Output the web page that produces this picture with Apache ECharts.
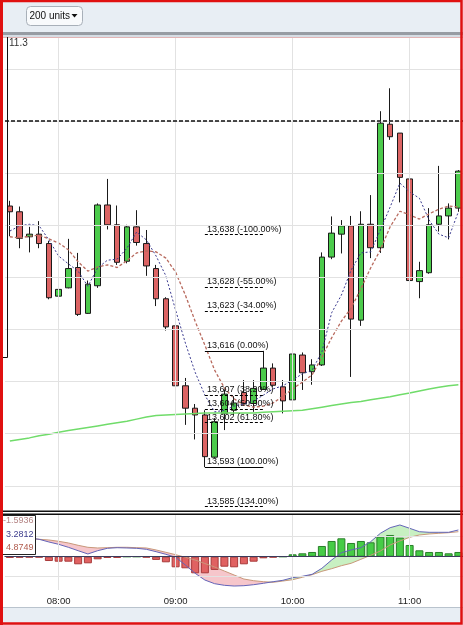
<!DOCTYPE html>
<html><head><meta charset="utf-8">
<script src="https://cdn.jsdelivr.net/npm/echarts@6/dist/echarts.min.js"></script>
<style>html,body{margin:0;padding:0;background:#fff}#c{width:463px;height:625px}</style>
</head><body><div id="c"></div>
<script>
const times = ['07:35','07:40','07:45','07:50','07:55','08:00','08:05','08:10','08:15','08:20','08:25','08:30','08:35','08:40','08:45','08:50','08:55','09:00','09:05','09:10','09:15','09:20','09:25','09:30','09:35','09:40','09:45','09:50','09:55','10:00','10:05','10:10','10:15','10:20','10:25','10:30','10:35','10:40','10:45','10:50','10:55','11:00','11:05','11:10','11:15','11:20','11:25','11:30'];

const opens  = [13.6437,13.6426,13.6378,13.6383,13.6365,13.6264,13.6280,13.6319,13.6231,13.6284,13.6439,13.6401,13.6331,13.6397,13.6365,13.6317,13.6259,13.6207,13.6092,13.6049,13.6036,13.5955,13.6039,13.6045,13.6079,13.6058,13.6085,13.6126,13.6090,13.6065,13.6151,13.6119,13.6132,13.6339,13.6383,13.6399,13.6218,13.6402,13.6357,13.6594,13.6577,13.6489,13.6292,13.6309,13.6402,13.6418,13.6433];
const closes = [13.6426,13.6375,13.6383,13.6365,13.6261,13.6277,13.6317,13.6229,13.6287,13.6439,13.6401,13.6329,13.6397,13.6367,13.6322,13.6259,13.6205,13.6092,13.6049,13.6036,13.5956,13.6023,13.6076,13.6059,13.6058,13.6087,13.6126,13.6093,13.6063,13.6153,13.6117,13.6132,13.6339,13.6385,13.6399,13.6220,13.6402,13.6357,13.6596,13.6570,13.6492,13.6294,13.6313,13.6401,13.6418,13.6433,13.6504];
const lows   = [13.6379,13.6356,13.6348,13.6356,13.6258,13.6226,13.6279,13.6226,13.6230,13.6280,13.6392,13.6324,13.6327,13.6361,13.6303,13.6245,13.6198,13.6090,13.6017,13.5989,13.5936,13.5953,13.6007,13.6036,13.6055,13.6042,13.6084,13.6090,13.6039,13.6060,13.6084,13.6094,13.6130,13.6335,13.6346,13.6109,13.6207,13.6337,13.6347,13.6564,13.6444,13.6241,13.6260,13.6307,13.6388,13.6373,13.6426];
const highs  = [13.6447,13.6436,13.6397,13.6408,13.6370,13.6308,13.6374,13.6347,13.6294,13.6442,13.6489,13.6438,13.6401,13.6429,13.6391,13.6324,13.6262,13.6215,13.6107,13.6057,13.6045,13.6030,13.6085,13.6072,13.6103,13.6103,13.6159,13.6135,13.6103,13.6157,13.6156,13.6143,13.6348,13.6417,13.6410,13.6418,13.6427,13.6458,13.6619,13.6663,13.6577,13.6491,13.6330,13.6433,13.6514,13.6442,13.6506];

const maFast = [13.6389,13.6399,13.6402,13.6399,13.6372,13.6341,13.6326,13.6312,13.6283,13.6318,13.6333,13.6335,13.6356,13.6387,13.6372,13.6341,13.6303,13.6237,13.6174,13.6118,13.6074,13.6042,13.6045,13.6053,13.6057,13.6063,13.6074,13.6086,13.6092,13.6103,13.6115,13.6122,13.6157,13.6232,13.6266,13.6314,13.6347,13.6349,13.6391,13.6435,13.6481,13.6464,13.6452,13.6410,13.6383,13.6376,13.6426];
const maSlow = [13.6378,13.6376,13.6379,13.6381,13.6374,13.6366,13.6353,13.6330,13.6312,13.6320,13.6324,13.6319,13.6332,13.6347,13.6351,13.6349,13.6337,13.6310,13.6266,13.6216,13.6170,13.6122,13.6088,13.6067,13.6055,13.6051,13.6053,13.6059,13.6072,13.6086,13.6099,13.6113,13.6147,13.6184,13.6216,13.6241,13.6278,13.6318,13.6353,13.6397,13.6427,13.6420,13.6412,13.6422,13.6431,13.6437,13.6435];
const maLong = [13.5986,13.5989,13.5992,13.5996,13.5999,13.6003,13.6006,13.6009,13.6012,13.6015,13.6018,13.6021,13.6024,13.6028,13.6032,13.6035,13.6036,13.6037,13.6038,13.6039,13.6040,13.6040,13.6040,13.6040,13.6040,13.6040,13.6041,13.6042,13.6043,13.6044,13.6045,13.6048,13.6051,13.6054,13.6057,13.6060,13.6062,13.6065,13.6068,13.6071,13.6075,13.6078,13.6082,13.6086,13.6089,13.6092,13.6094];

const macdHist   = [-0.3,-0.25,-0.2,-0.2,-1.08,-1.25,-1.25,-1.9,-1.65,-0.65,-0.3,-0.3,0,0,-0.2,-0.8,-1.4,-2.65,-2.9,-4.15,-4.15,-3.3,-2.5,-2.65,-1.9,-1.25,-0.4,-0.2,0,0.6,0.85,1.18,2.68,3.93,4.6,3.43,3.93,3.6,5.0,5.43,4.75,2.93,1.6,1.18,1.18,0.85,1.18];
const macdLine   = [5.4,5.1,4.7,4.35,3.68,3.1,2.35,1.5,0.68,1.5,2.1,2.25,2.18,2.1,1.85,1.25,0.6,-0.15,-2.08,-4.15,-5.83,-6.75,-7.15,-7.33,-7.25,-7.0,-6.65,-6.25,-5.9,-5.25,-4.9,-4.4,-2.9,-0.83,1.0,1.68,2.25,3.75,5.85,7.25,7.93,7.1,6.25,6.1,6.1,6.1,6.68];
const macdSignal = [4.7,4.6,4.5,4.35,4.18,3.85,3.43,2.85,2.35,2.18,2.25,2.35,2.35,2.25,2.18,1.68,1.1,0.5,-0.15,-0.83,-1.7,-2.58,-3.58,-4.58,-5.58,-6.0,-6.25,-6.4,-6.08,-5.75,-5.15,-4.5,-3.65,-3.0,-2.25,-1.65,-0.65,0.35,1.43,2.93,3.93,4.85,5.43,5.68,5.85,6.0,6.25];
const macdLegend = ['-1.5936','3.2812','4.8749'];

const fibHigh = 13.6159, fibLow = 13.5936;
const fibStart = '09:15', fibEnd = '09:45';
const fibRatios = [-1, -0.55, -0.34, 0, 0.382, 0.5, 0.618, 1, 1.34];
const fibLabels = ['13,638 (-100.00%)','13,628 (-55.00%)','13,623 (-34.00%)','13,616 (0.00%)','13,607 (38.20%)','13,604 (50.00%)','13,602 (61.80%)','13,593 (100.00%)','13,585 (134.00%)'];
const priceLine = 13.6596;
const gridPrices = [13.59,13.60,13.61,13.62,13.63,13.64,13.65,13.66,13.67];
const macdGridVals = [-5, 5];
const topLabel = '11.3';
const unitsLabel = '200 units';

const FONT = 'Liberation Sans, Arial, sans-serif';
const chart = echarts.init(document.getElementById('c'));
const hourTimes = times.filter(t => t.endsWith(':00'));
const candleData = opens.map((o, i) => [o, closes[i], lows[i], highs[i]]);
const fibLevels = fibRatios.map(r => fibHigh - r * (fibHigh - fibLow));
const base = macdLine.map((m, i) => Math.min(m, macdSignal[i]));
const pinkFill = macdLine.map((m, i) => m < macdSignal[i] ? macdSignal[i] - m : 0);
const greenFill = macdLine.map((m, i) => m >= macdSignal[i] ? m - macdSignal[i] : 0);

function gridLines(h, v, color) {
  return { silent: true, symbol: ['none','none'], label: { show: false }, animation: false,
    lineStyle: { color: color, width: 1, type: 'solid' },
    data: [...h.map(y => ({ yAxis: y })), ...v.map(x => ({ xAxis: x }))] };
}

const fibMarks = fibLevels.map((lv, i) => {
  const solid = (fibRatios[i] === 0 || fibRatios[i] === 1);
  return [
    { coord: [fibStart, lv],
      label: { show: true, position: 'insideStartTop', formatter: fibLabels[i], color: '#111', fontSize: 9, fontFamily: FONT, distance: [2, 1] },
      lineStyle: { color: '#000', width: 1, type: solid ? 'solid' : [3, 2] } },
    { coord: [fibEnd, lv] }
  ];
});

const option = {
  animation: false,
  backgroundColor: '#fff',
  grid: [
    { left: 5, width: 468, top: 37, height: 473, outerBoundsMode: 'none' },
    { left: 5, width: 468, top: 515, height: 75, outerBoundsMode: 'none' }
  ],
  xAxis: [
    { type: 'category', gridIndex: 0, data: times, boundaryGap: true,
      axisLine: { show: false }, axisTick: { show: false }, axisLabel: { show: false }, splitLine: { show: false } },
    { type: 'category', gridIndex: 1, data: times, boundaryGap: true,
      axisLine: { show: true, lineStyle: { color: '#111', width: 1 } }, axisTick: { show: false },
      axisLabel: { show: true, interval: (idx, val) => val.endsWith(':00'), color: '#222', fontSize: 9.5, fontFamily: FONT, margin: 6 },
      splitLine: { show: false } }
  ],
  yAxis: [
    { type: 'value', gridIndex: 0, min: 13.58536, max: 13.67614, show: false, splitLine: { show: false } },
    { type: 'value', gridIndex: 1, min: -8.325, max: 10.425, show: false, splitLine: { show: false } }
  ],
  series: [
    { type: 'line', xAxisIndex: 0, yAxisIndex: 0, data: [], z: 1, markLine: gridLines(gridPrices, hourTimes, '#e2e2e2') },
    { type: 'line', xAxisIndex: 1, yAxisIndex: 1, data: [], z: 1, markLine: gridLines(macdGridVals, hourTimes, '#e2e2e2') },
    { type: 'candlestick', xAxisIndex: 0, yAxisIndex: 0, data: candleData, barWidth: 6, z: 2,
      itemStyle: { color: '#4ccb4c', color0: '#dc6464', borderColor: '#1a1a1a', borderColor0: '#1a1a1a', borderWidth: 1 } },
    { type: 'line', xAxisIndex: 0, yAxisIndex: 0, data: maLong, symbol: 'none', z: 3,
      lineStyle: { color: '#70dc6a', width: 1.5 } },
    { type: 'line', xAxisIndex: 0, yAxisIndex: 0, data: maSlow, symbol: 'none', z: 3,
      lineStyle: { color: '#b86a5e', width: 1.3, type: [3, 2] } },
    { type: 'line', xAxisIndex: 0, yAxisIndex: 0, data: maFast, symbol: 'none', z: 3,
      lineStyle: { color: '#3a3a90', width: 1, type: [2, 2] } },
    { type: 'line', xAxisIndex: 0, yAxisIndex: 0, data: [], z: 4,
      markLine: { silent: true, symbol: ['none','none'], label: { show: false },
        lineStyle: { color: '#111', width: 1.5, type: [4, 2] }, data: [{ yAxis: priceLine }] } },
    { type: 'line', xAxisIndex: 0, yAxisIndex: 0, data: [], z: 5,
      markLine: { silent: true, symbol: ['none','none'], data: fibMarks } },
    { type: 'line', xAxisIndex: 1, yAxisIndex: 1, data: base, stack: 'fill', stackStrategy: 'all', symbol: 'none', z: 2,
      lineStyle: { opacity: 0 } },
    { type: 'line', xAxisIndex: 1, yAxisIndex: 1, data: pinkFill, stack: 'fill', stackStrategy: 'all', symbol: 'none', z: 2,
      lineStyle: { width: 0, opacity: 0 }, areaStyle: { color: '#f6c6cb', opacity: 1 } },
    { type: 'line', xAxisIndex: 1, yAxisIndex: 1, data: greenFill, stack: 'fill', stackStrategy: 'all', symbol: 'none', z: 2,
      lineStyle: { width: 0, opacity: 0 }, areaStyle: { color: '#c8f0c2', opacity: 1 } },
    { type: 'bar', xAxisIndex: 1, yAxisIndex: 1, barWidth: 8, z: 3,
      data: macdHist.map(v => ({ value: v, itemStyle: v < 0
        ? { color: '#e06262', borderColor: '#a83a3a', borderWidth: 1 }
        : { color: '#46cc46', borderColor: '#2a7f2a', borderWidth: 1 } })),
      markLine: { silent: true, symbol: ['none','none'], label: { show: false },
        lineStyle: { color: '#3c3c5c', width: 1, type: 'solid' }, data: [{ yAxis: 0 }] } },
    { type: 'line', xAxisIndex: 1, yAxisIndex: 1, data: macdSignal, symbol: 'none', z: 4,
      lineStyle: { color: '#c8987a', width: 1 } },
    { type: 'line', xAxisIndex: 1, yAxisIndex: 1, data: macdLine, symbol: 'none', z: 4,
      lineStyle: { color: '#6464b8', width: 1 } }
  ],
  graphic: [
    { type: 'rect', z: 100, shape: { x: 0, y: 0, width: 463, height: 32 }, style: { fill: '#e8eef4' } },
    { type: 'rect', z: 100, shape: { x: 0, y: 32, width: 463, height: 3 }, style: { fill: '#979ca3' } },
    { type: 'rect', z: 100, shape: { x: 0, y: 35, width: 463, height: 2 }, style: { fill: '#d6dde4' } },
    { type: 'line', z: 100, shape: { x1: 0, y1: 37.5, x2: 463, y2: 37.5 }, style: { stroke: '#e2b4b4', lineWidth: 1 } },
    { type: 'rect', z: 101, shape: { x: 26.5, y: 6.5, width: 56, height: 19, r: 4 }, style: { fill: '#f8fafc', stroke: '#a8b0b9', lineWidth: 1 } },
    { type: 'text', z: 102, style: { x: 29.5, y: 16, text: unitsLabel, fill: '#111', font: '10px ' + FONT, verticalAlign: 'middle' } },
    { type: 'polygon', z: 102, shape: { points: [[71.5, 14], [77.5, 14], [74.5, 17.5]] }, style: { fill: '#111' } },
    { type: 'text', z: 102, style: { x: 9, y: 43, text: topLabel, fill: '#333', font: '10px ' + FONT, verticalAlign: 'middle' } },
    { type: 'line', z: 102, shape: { x1: 7.5, y1: 37, x2: 7.5, y2: 357.5 }, style: { stroke: '#111', lineWidth: 1 } },
    { type: 'line', z: 102, shape: { x1: 0, y1: 357.5, x2: 7.5, y2: 357.5 }, style: { stroke: '#111', lineWidth: 1 } },
    { type: 'rect', z: 100, shape: { x: 0, y: 510.5, width: 463, height: 1.5 }, style: { fill: '#111' } },
    { type: 'rect', z: 100, shape: { x: 0, y: 512, width: 463, height: 1.5 }, style: { fill: '#fff' } },
    { type: 'rect', z: 100, shape: { x: 0, y: 513.5, width: 463, height: 1.5 }, style: { fill: '#111' } },
    { type: 'rect', z: 101, shape: { x: 2.5, y: 515.5, width: 33, height: 39 }, style: { fill: '#fff', stroke: '#222', lineWidth: 1 } },
    { type: 'text', z: 102, style: { x: 33.5, y: 521, text: macdLegend[0], fill: '#b48484', font: '9px ' + FONT, align: 'right', verticalAlign: 'middle' } },
    { type: 'text', z: 102, style: { x: 33.5, y: 535, text: macdLegend[1], fill: '#3c3c8c', font: '9px ' + FONT, align: 'right', verticalAlign: 'middle' } },
    { type: 'text', z: 102, style: { x: 33.5, y: 548, text: macdLegend[2], fill: '#b05a4c', font: '9px ' + FONT, align: 'right', verticalAlign: 'middle' } },
    { type: 'line', z: 100, shape: { x1: 0, y1: 607.5, x2: 463, y2: 607.5 }, style: { stroke: '#b9c3cd', lineWidth: 1 } },
    { type: 'rect', z: 100, shape: { x: 0, y: 608, width: 463, height: 17 }, style: { fill: '#e8eef4' } },
    { type: 'rect', z: 200, shape: { x: 1.5, y: 1, width: 460, height: 622.5 }, style: { fill: 'none', stroke: '#e01010', lineWidth: 2.5 } },
    { type: 'rect', z: 200, shape: { x: 0, y: 0, width: 3, height: 625 }, style: { fill: '#e01010' } }
  ]
};
chart.setOption(option);
</script>
</body></html>
